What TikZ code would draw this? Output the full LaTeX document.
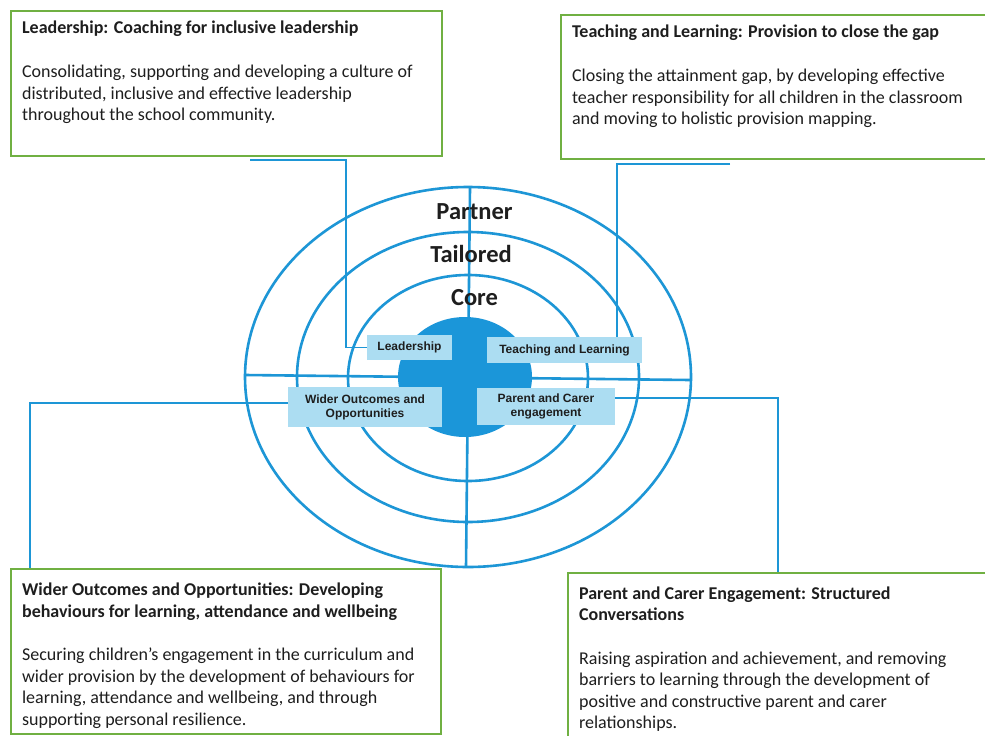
\documentclass[tikz,border=0pt]{standalone}
\usepackage{fontspec}
\setmainfont{Carlito}
\newfontfamily\arialfont{Liberation Sans}
\usetikzlibrary{positioning,calc}

\definecolor{ringblue}{RGB}{29,150,214}
\definecolor{coreblue}{RGB}{27,150,217}
\definecolor{areablue}{RGB}{172,221,242}
\definecolor{boxgreen}{RGB}{112,176,66}
\definecolor{inkgray}{RGB}{30,30,30}

\begin{document}
\begin{tikzpicture}[x=1pt,y=-1pt,
  ring/.style={draw=ringblue,line width=2.6pt},
  link/.style={draw=ringblue,line width=1.3pt},
  ringlabel/.style={anchor=base,text=inkgray,font=\bfseries\fontsize{24.5}{24.5}\selectfont},
  areabox/.style={fill=areablue,inner sep=0pt,align=center,text=inkgray,
    font=\arialfont\bfseries\fontsize{12}{14}\selectfont},
  goalbox/.style={draw=boxgreen,line width=2.2pt,fill=white,anchor=north west,
    inner xsep=11pt,inner ysep=10pt,text=inkgray,font=\fontsize{18}{21.5}\selectfont}]
\useasboundingbox (0,0) rectangle (985,736);
\fill[white] (0,0) rectangle (985,736);

\draw[ring] (468,377) ellipse [x radius=223pt, y radius=190pt];
\draw[ring] (468,377) ellipse [x radius=171pt, y radius=145pt];
\draw[ring] (468,378) ellipse [x radius=120pt, y radius=103pt];
\draw[ring] (470,188) -- (466,567);
\draw[ring] (245,375) -- (690,380);
\fill[coreblue] (465,377) ellipse [x radius=67pt, y radius=60pt];

\node [ringlabel] (partner) at (474.5,219) {Partner};
\node [ringlabel] (tailored) at (471,262) {Tailored};
\node [ringlabel] (core) at (474.5,305.5) {Core};

\node [areabox,minimum width=85pt,minimum height=25pt] (lead) at (409.5,347.5) {Leadership};
\node [areabox,minimum width=155pt,minimum height=26pt] (teach) at (564.5,350) {Teaching and Learning};
\node [areabox,minimum width=154pt,minimum height=40pt] (wider) at (365,407) {Wider Outcomes and\\Opportunities};
\node [areabox,minimum width=138pt,minimum height=37pt] (parent) at (546,406.5) {Parent and Carer\\engagement};

\node [goalbox] (leadgoal) at (10,10) {\parbox[c][125pt][t]{409pt}{\raggedright
  \textbf{Leadership: Coaching for inclusive leadership}\\[22.5pt]
  Consolidating, supporting and developing a culture of\\
  distributed, inclusive and effective leadership\\
  throughout the school community.}};
\node [goalbox] (teachgoal) at (560,14) {\parbox[c][124pt][t]{418pt}{\raggedright
  \textbf{Teaching and Learning: Provision to close the gap}\\[22.5pt]
  Closing the attainment gap, by developing effective\\
  teacher responsibility for all children in the classroom\\
  and moving to holistic provision mapping.}};
\node [goalbox,inner ysep=14pt] (widergoal) at (10,568) {\parbox[c][137pt][t]{408pt}{\raggedright
  \textbf{Wider Outcomes and Opportunities: Developing}\\
  \textbf{behaviours for learning, attendance and wellbeing}\\[22pt]
  Securing children’s engagement in the curriculum and\\
  wider provision by the development of behaviours for\\
  learning, attendance and wellbeing, and through\\
  supporting personal resilience.}};
\node [goalbox,inner ysep=13.5pt] (parentgoal) at (567,572) {\parbox[c][140pt][t]{410pt}{\raggedright
  \textbf{Parent and Carer Engagement: Structured}\\
  \textbf{Conversations}\\[22pt]
  Raising aspiration and achievement, and removing\\
  barriers to learning through the development of\\
  positive and constructive parent and carer\\
  relationships.}};

\coordinate (leadfree) at (250,160);
\coordinate (leadknee) at (346,160);
\coordinate (teachfree) at (730,164);
\coordinate (teachknee) at (617,164);
\coordinate (widerknee) at (30,403);
\coordinate (parentknee) at (778,398);

\draw[link] (leadfree) -- (leadknee) |- (lead.west);
\draw[link] (teachfree) -- (teachknee) -- (teachknee |- teach.north);
\draw[link] (wider.west |- widerknee) -- (widerknee) -- (widerknee |- widergoal.north);
\draw[link] (parent.east |- parentknee) -- (parentknee) -- (parentknee |- parentgoal.north);
\end{tikzpicture}
\end{document}
